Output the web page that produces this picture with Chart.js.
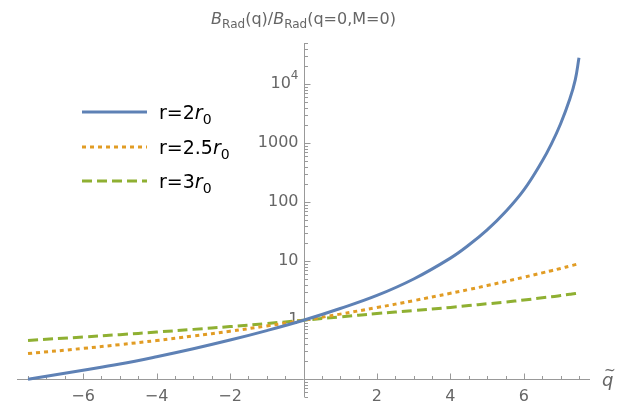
<!DOCTYPE html>
<html>
<head>
<meta charset="utf-8">
<script src="https://cdn.jsdelivr.net/npm/chart.js@4"></script>
<style>
  html, body { margin: 0; padding: 0; background: #fff; }
  #wrap { width: 633px; height: 403px; position: relative; }
</style>
</head>
<body>
<div id="wrap"><canvas id="chart"></canvas></div>
<script>
// q values shared by the three curves
const qValues = [-7.5, -6, -5, -4, -3, -2, -1, 0, 1, 2, 3, 4, 4.5, 5, 5.5, 6, 6.5, 6.75, 7, 7.25, 7.4, 7.5];
// B_Rad(q)/B_Rad(q=0,M=0)
const r2Values   = [0.1, 0.142, 0.181, 0.241, 0.329, 0.462, 0.668, 1, 1.58, 2.63, 5.0, 11.3, 18.8, 34, 69, 162, 500, 975, 2140, 5600, 12000, 28000];
const r25Values  = [0.272, 0.333, 0.386, 0.453, 0.54, 0.652, 0.8, 1, 1.27, 1.64, 2.15, 2.86, 3.32, 3.87, 4.55, 5.35, 6.35, 6.92, 7.55, 8.28, 8.75, 9.1];
const r3Values   = [0.455, 0.52, 0.57, 0.63, 0.7, 0.78, 0.88, 1, 1.14, 1.3, 1.46, 1.65, 1.77, 1.9, 2.03, 2.2, 2.4, 2.5, 2.62, 2.75, 2.83, 2.9];

const xMajorTicks = [-6, -4, -2, 2, 4, 6];
const xTickLabels = ['\u22126', '\u22124', '\u22122', '2', '4', '6'];
const yMajorTicks = [1, 10, 100, 1000, 10000];
const yTickLabels = ['1', '10', '100', '1000', '10^4'];

const legendLabels = ['2', '2.5', '3'];
const colors = ['#5e81b5', '#e19c24', '#8fb032'];
const dashes = [[], [4, 4], [10, 5]];

const GRAY = '#999999';
const LABEL = '#666666';
const FONT = '"DejaVu Sans", sans-serif';

function pts(vals) {
    return qValues.map((q, i) => ({ x: q, y: vals[i] }));
}

// text made of pieces: {t, size, italic, dy}
function runsWidth(ctx, runs) {
    let w = 0;
    runs.forEach(r => {
        ctx.font = (r.italic ? 'italic ' : '') + r.size + 'px ' + FONT;
        w += ctx.measureText(r.t).width;
    });
    return w;
}
function drawRuns(ctx, runs, x, y) {
    runs.forEach(r => {
        ctx.font = (r.italic ? 'italic ' : '') + r.size + 'px ' + FONT;
        ctx.fillText(r.t, x, y + (r.dy || 0));
        x += ctx.measureText(r.t).width;
    });
}

const axesPlugin = {
    id: 'mmaAxes',
    beforeDatasetsDraw(chart) {
        const { ctx, chartArea, scales } = chart;
        const xs = scales.x, ys = scales.y;
        const x0 = Math.round(xs.getPixelForValue(0)) + 0.5;
        const yAx = Math.round(ys.getPixelForValue(0.1)) + 0.5;
        ctx.save();
        ctx.strokeStyle = GRAY;
        ctx.lineWidth = 1;
        ctx.beginPath();
        ctx.moveTo(chartArea.left, yAx);
        ctx.lineTo(chartArea.right, yAx);
        ctx.moveTo(x0, chartArea.top);
        ctx.lineTo(x0, chartArea.bottom);
        // x ticks: minor every 0.5, major every 2
        for (let k = -15; k <= 15; k++) {
            const v = k / 2;
            if (v === 0) continue;
            const px = Math.round(xs.getPixelForValue(v)) + 0.5;
            const len = (v % 2 === 0) ? 6 : 3.5;
            ctx.moveTo(px, yAx);
            ctx.lineTo(px, yAx - len);
        }
        // y ticks: log minor ticks
        for (let d = -2; d <= 4; d++) {
            for (let m = 1; m <= 9; m++) {
                const v = m * Math.pow(10, d);
                if (v < ys.min || v > ys.max) continue;
                const py = Math.round(ys.getPixelForValue(v)) + 0.5;
                const len = m === 1 ? 6 : 3.5;
                ctx.moveTo(x0, py);
                ctx.lineTo(x0 + len, py);
            }
        }
        ctx.stroke();

        // tick labels
        ctx.fillStyle = LABEL;
        ctx.font = '16px ' + FONT;
        ctx.textAlign = 'center';
        ctx.textBaseline = 'middle';
        xMajorTicks.forEach((v, i) => {
            ctx.fillText(xTickLabels[i], xs.getPixelForValue(v), yAx + 17);
        });
        ctx.textAlign = 'right';
        yMajorTicks.forEach((v, i) => {
            const py = ys.getPixelForValue(v);
            const lab = yTickLabels[i];
            if (lab.indexOf('^') > 0) {
                const [b, e] = lab.split('^');
                ctx.font = '12px ' + FONT;
                const ew = ctx.measureText(e).width;
                ctx.fillText(e, x0 - 6, py - 8);
                ctx.font = '16px ' + FONT;
                ctx.fillText(b, x0 - 6 - ew, py);
            } else {
                ctx.font = '16px ' + FONT;
                ctx.fillText(lab, x0 - 6, py);
            }
        });
        ctx.restore();
    },
    afterDraw(chart) {
        const { ctx, scales } = chart;
        const x0 = scales.x.getPixelForValue(0);
        ctx.save();
        ctx.textBaseline = 'alphabetic';
        ctx.textAlign = 'left';

        // axis label on top of the y axis
        ctx.fillStyle = LABEL;
        const title = [
            { t: 'B', size: 16, italic: true },
            { t: 'Rad', size: 12, dy: 4 },
            { t: '(q)/', size: 16 },
            { t: 'B', size: 16, italic: true },
            { t: 'Rad', size: 12, dy: 4 },
            { t: '(q=0,M=0)', size: 16 }
        ];
        drawRuns(ctx, title, x0 - runsWidth(ctx, title) / 2, 24);

        // x axis label q~
        ctx.font = 'italic 18px ' + FONT;
        ctx.fillText('q', 602, 386);
        ctx.font = '14px ' + FONT;
        ctx.fillText('~', 604, 375);

        // legend
        const rowsY = [112, 147, 181];
        legendLabels.forEach((lab, i) => {
            const y = rowsY[i];
            ctx.strokeStyle = colors[i];
            ctx.lineWidth = 3;
            ctx.setLineDash(dashes[i]);
            ctx.beginPath();
            ctx.moveTo(82, y);
            ctx.lineTo(147, y);
            ctx.stroke();
            ctx.setLineDash([]);
            ctx.fillStyle = '#000';
            drawRuns(ctx, [
                { t: 'r=' + lab, size: 19 },
                { t: 'r', size: 19, italic: true },
                { t: '0', size: 14, dy: 5 }
            ], 159, y + 7);
        });
        ctx.restore();
    }
};

const datasets = [r2Values, r25Values, r3Values].map((vals, i) => ({
    label: 'r=' + legendLabels[i] + 'r0',
    data: pts(vals),
    borderColor: colors[i],
    borderWidth: 3,
    borderDash: dashes[i],
    pointRadius: 0,
    fill: false,
    tension: 0.4
}));

new Chart(document.getElementById('chart').getContext('2d'), {
    type: 'line',
    data: { datasets: datasets },
    options: {
        responsive: true,
        maintainAspectRatio: false,
        animation: false,
        layout: { padding: { left: 17, right: 43, top: 43, bottom: 6 } },
        plugins: {
            legend: { display: false },
            tooltip: { enabled: false }
        },
        scales: {
            x: { type: 'linear', min: -7.8, max: 7.8, display: false },
            y: { type: 'logarithmic', min: 0.05, max: 50000, display: false }
        }
    },
    plugins: [axesPlugin]
});
</script>
</body>
</html>
